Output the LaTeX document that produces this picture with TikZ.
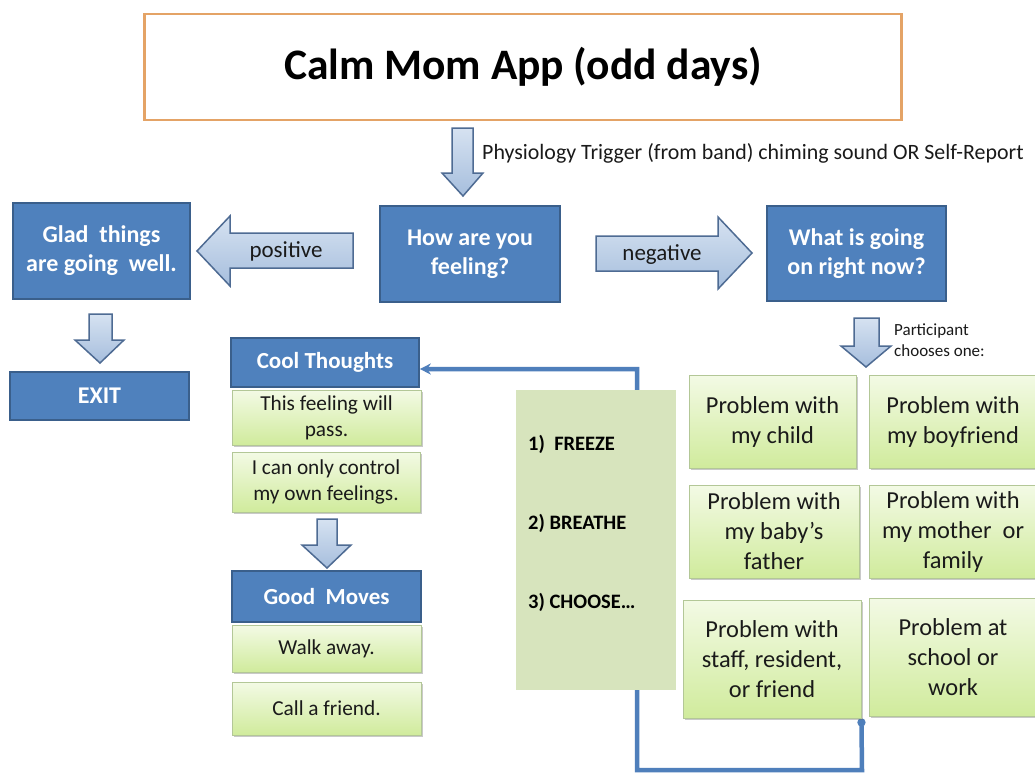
\documentclass[tikz,border=0pt]{standalone}
\usepackage{fontspec}
\setmainfont{Carlito}
\usetikzlibrary{arrows.meta,shadows,backgrounds}
\definecolor{boxblue}{HTML}{4F81BD}
\definecolor{boxblueedge}{HTML}{3A5F8B}
\definecolor{arrA}{HTML}{D6E2F1}
\definecolor{arrB}{HTML}{A6BEDD}
\definecolor{arredge}{HTML}{4E6B93}
\definecolor{grnA}{HTML}{F3FAE5}
\definecolor{grnB}{HTML}{D0EB9C}
\definecolor{grnedge}{HTML}{B3C797}
\definecolor{olivebox}{HTML}{D7E4BD}
\definecolor{titleedge}{HTML}{E4A366}
\definecolor{conncol}{HTML}{4F7FBB}
\definecolor{txt}{HTML}{1A1A1A}
\tikzset{
  bluebox/.style={draw=boxblueedge, line width=1.6pt, fill=boxblue, text=white,
    font=\fontsize{24}{29}\selectfont\bfseries, align=center, inner sep=0pt},
  greenbox/.style={draw=grnedge, line width=0.8pt, top color=grnA, bottom color=grnB,
    text=txt, align=center, inner sep=0pt,
    drop shadow={shadow xshift=1.5pt, shadow yshift=-2pt, opacity=0.35, fill=black!60}},
  probfont/.style={font=\fontsize{24.4}{30}\selectfont},
  thoughtfont/.style={font=\fontsize{21.3}{26}\selectfont},
  blockarrow/.style={draw=arredge, line width=1.5pt, line join=miter, top color=arrA, bottom color=arrB},
  conn/.style={draw=conncol, line width=4.5pt, line join=miter},
  stepfont/.style={font=\fontsize{20.5}{24}\selectfont\bfseries, text=black, inner sep=0pt},
}
\begin{document}
\begin{tikzpicture}[x=1pt,y=-1pt]
\useasboundingbox (0,0) rectangle (1035,774);

% title
\node[draw=titleedge, line width=2.5pt, fill=white, minimum width=757pt, minimum height=106pt,
  font=\fontsize{43.5}{50}\selectfont\bfseries, text=black, inner sep=0pt] (title) at (523,67) {Calm Mom App (odd days)};

% trigger arrow
\draw[blockarrow] (452,128) -- (473,128) -- (473,173) -- (483,173) -- (463,196) -- (442,173) -- (452,173) -- cycle;
\node[anchor=base west, font=\fontsize{21.9}{26}\selectfont, text=txt, inner sep=0pt] (trigger) at (482,159) {Physiology Trigger (from band) chiming sound OR Self-Report};

% main blue boxes
\node[bluebox, minimum width=180pt, minimum height=96pt] (how) at (470,254) {How are you\\feeling?};
\node[bluebox, minimum width=177pt, minimum height=96pt] (glad) at (101.5,251) {Glad\ \ things\\are going\ \ well.};
\node[bluebox, minimum width=179pt, minimum height=95pt] (what) at (856.5,253.5) {What is going\\on right now?};
\node[bluebox, minimum width=179pt, minimum height=48pt] (exit) at (99.5,396) {EXIT};

% positive / negative arrows
\draw[blockarrow] (353,233) -- (230,233) -- (230,216) -- (197,251) -- (230,286) -- (230,268) -- (353,268) -- cycle;
\node[font=\fontsize{23}{28}\selectfont, text=txt, inner sep=0pt] (pos) at (286,251) {positive};
\draw[blockarrow] (596,236) -- (718,236) -- (718,217) -- (752,253) -- (718,289) -- (718,271) -- (596,271) -- cycle;
\node[font=\fontsize{23}{28}\selectfont, text=txt, inner sep=0pt] (neg) at (662,255) {negative};

% glad -> exit arrow
\draw[blockarrow] (89,314) -- (112,314) -- (112,340) -- (124,340) -- (100,363) -- (75,340) -- (89,340) -- cycle;

% cool thoughts column
\node[bluebox, minimum width=188pt, minimum height=49pt, font=\fontsize{23}{28}\selectfont\bfseries] (cool) at (325,362.5) {Cool Thoughts};
\node[greenbox, thoughtfont, minimum width=189pt, minimum height=55pt] (t1) at (326.5,417.5) {This feeling will\\pass.};
\node[greenbox, thoughtfont, minimum width=188pt, minimum height=60pt] (t2) at (326,482) {I can only control\\my own feelings.};
\draw[blockarrow] (317,519) -- (337,519) -- (337,545) -- (351,545) -- (327,568) -- (302,545) -- (317,545) -- cycle;
\node[bluebox, minimum width=189pt, minimum height=51pt, font=\fontsize{23}{28}\selectfont\bfseries] (good) at (326.5,596.5) {Good\ \ Moves};
\node[greenbox, thoughtfont, minimum width=189pt, minimum height=47pt] (m1) at (326.5,648.5) {Walk away.};
\node[greenbox, thoughtfont, minimum width=189pt, minimum height=53pt] (m2) at (326.5,708.5) {Call a friend.};

% problem arrow and label
\draw[blockarrow] (854,318) -- (879,318) -- (879,346) -- (891,346) -- (866,367) -- (841,346) -- (854,346) -- cycle;
\node[anchor=north west, align=left, font=\fontsize{17}{21}\selectfont, text=txt, inner sep=0pt] (part) at (894,324) {Participant\\chooses one:};

% problem boxes
\node[greenbox, probfont, minimum width=167pt, minimum height=93pt] (p1) at (772.5,421.5) {Problem with\\my child};
\node[greenbox, probfont, minimum width=168pt, minimum height=93pt] (p2) at (953,421.5) {Problem with\\my boyfriend};
\node[greenbox, probfont, minimum width=170pt, minimum height=93pt] (p3) at (774,531.5) {Problem with\\my baby’s\\father};
\node[greenbox, probfont, minimum width=168pt, minimum height=93pt] (p4) at (953,531.5) {Problem with\\my mother\ \ or\\family};
\node[greenbox, probfont, minimum width=178pt, minimum height=118pt] (p5) at (772,659) {Problem with\\staff, resident,\\or friend};
\node[greenbox, probfont, minimum width=168pt, minimum height=118pt] (p6) at (953,657) {Problem at\\school or\\work};

% freeze / breathe / choose panel
\node[fill=olivebox, minimum width=160pt, minimum height=300pt, inner sep=0pt] (panel) at (596,540) {};
\node[stepfont, anchor=base west] (s1) at (528,450) {1)~~FREEZE};
\node[stepfont, anchor=base west] (s2) at (528,529) {2) BREATHE};
\node[stepfont, anchor=base west] (s3) at (528,608) {3) CHOOSE…};

% loop connector (behind the panel)
\coordinate (c1) at (862,770);
\coordinate (c2) at (637,770);
\coordinate (c3) at (637,369);
\begin{scope}[on background layer]
\fill[white] (0,0) rectangle (1035,774);
\draw[conn, {Circle[length=8pt]}-{Stealth[length=11pt,width=11pt]}] (p5.south east) -- (c1) -- (c2) -- (c3) -- (cool.east |- c3);
\end{scope}
\end{tikzpicture}
\end{document}
